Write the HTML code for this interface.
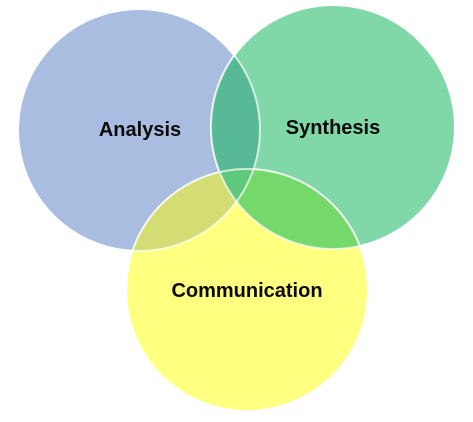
<!DOCTYPE html>
<html><head><meta charset="utf-8"><style>
html,body{margin:0;padding:0;background:#fff;width:473px;height:422px;overflow:hidden}
text{font-family:"Liberation Sans",sans-serif;font-weight:bold;font-size:20px;fill:#0a0a0a}
</style></head><body>
<svg width="473" height="422" xmlns="http://www.w3.org/2000/svg">
<defs>
<clipPath id="b"><circle cx="139" cy="130" r="121"/></clipPath>
<clipPath id="g"><circle cx="333" cy="127" r="122"/></clipPath>
<clipPath id="y"><circle cx="247" cy="290" r="121"/></clipPath>
</defs>
<circle cx="139" cy="130" r="121" fill="#a8bde0" stroke="#fff" stroke-width="2"/>
<circle cx="333" cy="127" r="122" fill="#80d7a7" stroke="#fff" stroke-width="2"/>
<circle cx="247" cy="290" r="121" fill="#ffff80" stroke="#fff" stroke-width="2"/>
<g clip-path="url(#b)"><circle cx="333" cy="127" r="122" fill="#57b995"/></g>
<g clip-path="url(#b)"><circle cx="247" cy="290" r="121" fill="#d4dd73"/></g>
<g clip-path="url(#g)"><circle cx="247" cy="290" r="121" fill="#74d96a"/></g>
<g clip-path="url(#b)"><g clip-path="url(#g)"><circle cx="247" cy="290" r="121" fill="#5ec87c"/></g></g>
<circle cx="139" cy="130" r="121" fill="none" stroke="#fff" stroke-width="2" opacity="0.7"/>
<circle cx="333" cy="127" r="122" fill="none" stroke="#fff" stroke-width="2" opacity="0.7"/>
<circle cx="247" cy="290" r="121" fill="none" stroke="#fff" stroke-width="2" opacity="0.7"/>
<text x="140" y="136" text-anchor="middle">Analysis</text>
<text x="333" y="134" text-anchor="middle">Synthesis</text>
<text x="247" y="297" text-anchor="middle">Communication</text>
</svg>
</body></html>
